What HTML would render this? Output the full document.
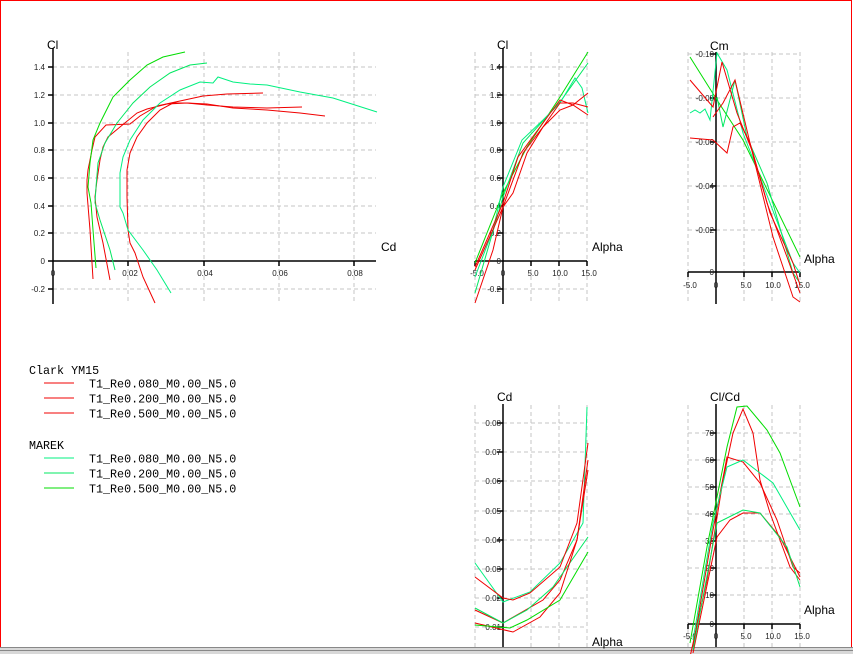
<!DOCTYPE html>
<html><head><style>
html,body{margin:0;padding:0;background:#fff}
svg{display:block}
text{font-family:"Liberation Sans",sans-serif}
.t{font-size:8px;fill:#222}
.T{font-size:12px;fill:#000}
.g{stroke:#c4c4c4;stroke-width:1;stroke-dasharray:4,3;fill:none}
.a{stroke:#000;stroke-width:1.5;fill:none}
.r{stroke:#f00000;stroke-width:1;fill:none}
.e{stroke:#00f080;stroke-width:1;fill:none}
.f{stroke:#00e860;stroke-width:1;fill:none}
.d{stroke:#00dd00;stroke-width:1;fill:none}
.m{font-family:"Liberation Mono",monospace;font-size:11.7px;fill:#000}
</style></head><body>
<svg width="853" height="654" viewBox="0 0 853 654" xmlns="http://www.w3.org/2000/svg">
<rect x="0.5" y="0.5" width="851" height="652" fill="#fff" stroke="#f00" stroke-width="1"/>
<rect x="0" y="647" width="853" height="7" fill="#d8d8d8"/>
<line x1="0" y1="647.5" x2="853" y2="647.5" stroke="#888"/>
<line x1="0" y1="650.5" x2="853" y2="650.5" stroke="#888"/>

<!-- Chart 1 Cl vs Cd -->
<g class="g">
<path d="M128 52V304M204 52V304M279 52V304M354 52V304"/>
<path d="M53 67H376M53 95H376M53 123H376M53 150H376M53 178H376M53 206H376M53 233H376M53 289H376"/>
</g>
<path class="a" d="M53 48V304M53 261H376"/>
<g class="a" stroke-width="1"><path d="M48 67H53M48 95H53M48 123H53M48 150H53M48 178H53M48 206H53M48 233H53M48 261H53M48 289H53M128 261V266M204 261V266M279 261V266M354 261V266"/></g>
<g class="t" text-anchor="end">
<text x="45" y="70">1.4</text><text x="45" y="98">1.2</text><text x="45" y="126">1.0</text><text x="45" y="153">0.8</text><text x="45" y="181">0.6</text><text x="45" y="209">0.4</text><text x="45" y="236">0.2</text><text x="45" y="264">0</text><text x="45" y="292">-0.2</text>
</g>
<g class="t" text-anchor="middle"><text x="53" y="276">0</text><text x="130" y="276">0.02</text><text x="205" y="276">0.04</text><text x="280" y="276">0.06</text><text x="355" y="276">0.08</text></g>
<text class="T" x="47" y="49">Cl</text><text class="T" x="381" y="251">Cd</text>

<polyline class="r" points="93,279 90,230 87,193 87,180 88,170 92,150 95,137 106,125 130,124 140,116 157,106 180,101 203,96 227,94 263,93"/>
<polyline class="r" points="110,280 103,243 97,217 95,197 97,180 100,160 103,147 108,137 120,127 137,113 147,109 167,104 187,103 207,105 233,107 267,108 302,107"/>
<polyline class="r" points="155,303 143,277 135,253 130,243 128,230 127,197 127,170 130,153 137,137 147,123 160,110 173,103 187,103 207,104 233,108 267,110 300,113 325,116"/>
<polyline class="d" points="96,268 93,230 91,203 88,187 90,163 93,140 100,123 113,97 130,80 147,65 163,57 185,52"/>
<polyline class="f" points="115,270 110,250 100,220 95,203 96,187 98,163 105,143 117,123 133,103 150,87 170,73 190,65 207,63"/>
<polyline class="e" points="171,293 157,270 143,250 128,230 123,213 120,207 120,173 123,157 130,140 143,120 160,103 180,90 200,82 213,83 218,77 233,82 250,84 267,85 300,92 333,98 377,112"/>

<!-- Chart 2 Cl vs Alpha -->
<g class="g">
<path d="M475 52V304M531 52V304M559 52V304M587 52V304"/>
<path d="M475 67H587M475 95H587M475 123H587M475 150H587M475 178H587M475 206H587M475 233H587M475 289H587"/>
</g>
<path class="a" d="M503 48V304M475 261H587"/>
<g class="a" stroke-width="1"><path d="M497 67H503M497 95H503M497 123H503M497 150H503M497 178H503M497 206H503M497 233H503M497 289H503M475 261V266M531 261V266M559 261V266M587 261V266"/></g>
<g class="t" text-anchor="end">
<text x="501" y="70">1.4</text><text x="501" y="98">1.2</text><text x="501" y="126">1.0</text><text x="501" y="153">0.8</text><text x="501" y="181">0.6</text><text x="501" y="209">0.4</text><text x="501" y="236">0.2</text><text x="501" y="264">0</text><text x="501" y="292">-0.2</text>
</g>
<g class="t" text-anchor="middle"><text x="477" y="276">-5.0</text><text x="503" y="276">0</text><text x="533" y="276">5.0</text><text x="560" y="276">10.0</text><text x="589" y="276">15.0</text></g>
<text class="T" x="497" y="49">Cl</text><text class="T" x="592" y="251">Alpha</text>
<polyline class="d" points="475,263 503,193 527,147 560,97 588,52"/>
<polyline class="f" points="475,293 503,197 523,143 560,102 588,63"/>
<polyline class="e" points="475,277 493,230 503,187 522,140 543,120 560,103 575,78 582,88 588,113"/>
<polyline class="r" points="475,303 493,250 503,207 513,193 527,153 543,127 560,103 573,103 588,107"/>
<polyline class="r" points="475,270 503,207 523,153 543,127 560,110 573,105 588,93"/>
<polyline class="r" points="475,267 503,203 518,157 540,127 560,100 573,105 588,115"/>

<!-- Chart 3 Cm -->
<g class="g">
<path d="M688 52V304M744 52V304M772 52V304M800 52V304"/>
<path d="M688 54H800M688 98H800M688 142H800M688 186H800M688 230H800"/>
</g>
<path class="a" d="M716 52V304M688 272H800"/>
<g class="a" stroke-width="1"><path d="M710 54H716M710 98H716M710 142H716M710 186H716M710 230H716M688 272V277M744 272V277M772 272V277M800 272V277"/></g>
<g class="t" text-anchor="end">
<text x="714" y="57">-0.10</text><text x="714" y="101">-0.08</text><text x="714" y="145">-0.06</text><text x="714" y="189">-0.04</text><text x="714" y="233">-0.02</text><text x="714" y="275">0</text>
</g>
<g class="t" text-anchor="middle"><text x="690" y="288">-5.0</text><text x="716" y="288">0</text><text x="746" y="288">5.0</text><text x="773" y="288">10.0</text><text x="802" y="288">15.0</text></g>
<text class="T" x="710" y="50">Cm</text><text class="T" x="804" y="263">Alpha</text>
<polyline class="d" points="690,57 717,100 743,140 800,257"/>
<polyline class="e" points="690,113 695,110 700,113 705,109 710,120 717,53 727,70 743,133 760,177 793,263 800,273"/>
<polyline class="f" points="717,97 723,127 735,80 747,137 767,183 793,273 800,283"/>
<polyline class="r" points="690,80 713,107 722,62 737,113 753,153 770,213 793,263 800,285"/>
<polyline class="r" points="690,138 713,140 727,153 733,127 740,123 750,143 767,203 787,257 800,293"/>
<polyline class="r" points="713,117 723,103 735,80 750,143 773,237 793,297 800,302"/>

<!-- Chart 4 Cd -->
<g class="g">
<path d="M475 405V647M531 405V647M559 405V647M587 405V647"/>
<path d="M475 423H587M475 452H587M475 481H587M475 511H587M475 540H587M475 569H587M475 598H587M475 627H587"/>
</g>
<path class="a" d="M503 404V647"/>
<g class="a" stroke-width="1"><path d="M497 423H503M497 452H503M497 481H503M497 511H503M497 540H503M497 569H503M497 598H503M497 627H503"/></g>
<g class="t" text-anchor="end">
<text x="501" y="426">0.08</text><text x="501" y="455">0.07</text><text x="501" y="484">0.06</text><text x="501" y="514">0.05</text><text x="501" y="543">0.04</text><text x="501" y="572">0.03</text><text x="501" y="601">0.02</text><text x="501" y="630">0.01</text>
</g>
<text class="T" x="497" y="401">Cd</text><text class="T" x="592" y="646">Alpha</text>
<polyline class="e" points="475,563 503,602 530,592 560,563 583,523 587,407"/>
<polyline class="r" points="475,577 503,598 513,600 530,593 560,567 577,523 588,443"/>
<polyline class="r" points="475,610 503,623 543,600 560,580 577,540 588,460"/>
<polyline class="f" points="475,608 503,623 527,610 553,587 588,537"/>
<polyline class="r" points="475,623 513,632 540,617 560,593 577,540 588,470"/>
<polyline class="d" points="475,625 510,628 527,620 560,600 588,552"/>

<!-- Chart 5 Cl/Cd -->
<g class="g">
<path d="M688 405V647M744 405V647M772 405V647M800 405V647"/>
<path d="M688 433H800M688 460H800M688 487H800M688 514H800M688 541H800M688 568H800M688 595H800"/>
</g>
<path class="a" d="M716 404V647M688 624H800"/>
<g class="a" stroke-width="1"><path d="M710 433H716M710 460H716M710 487H716M710 514H716M710 541H716M710 568H716M710 595H716M710 624H716M688 624V629M744 624V629M772 624V629M800 624V629"/></g>
<g class="t" text-anchor="end">
<text x="714" y="436">70</text><text x="714" y="463">60</text><text x="714" y="490">50</text><text x="714" y="517">40</text><text x="714" y="544">30</text><text x="714" y="571">20</text><text x="714" y="598">10</text><text x="714" y="627">0</text>
</g>
<g class="t" text-anchor="middle"><text x="690" y="639">-5.0</text><text x="716" y="639">0</text><text x="746" y="639">5.0</text><text x="773" y="639">10.0</text><text x="802" y="639">15.0</text></g>
<text class="T" x="710" y="401">Cl/Cd</text><text class="T" x="804" y="614">Alpha</text>
<polyline class="d" points="690,643 707,547 727,447 737,407 747,406 767,430 780,453 800,507"/>
<polyline class="r" points="690,657 707,580 723,480 733,433 743,409 753,433 760,480 770,513 790,567 800,580"/>
<polyline class="r" points="693,647 713,530 727,457 743,462 760,483 777,520 793,567 800,573"/>
<polyline class="e" points="693,640 713,523 727,467 743,460 773,483 800,530"/>
<polyline class="r" points="693,653 717,537 730,520 743,513 760,513 780,537 800,577"/>
<polyline class="f" points="693,650 717,523 743,510 760,513 787,547 800,587"/>

<!-- Legend -->
<text class="m" x="29" y="374">Clark YM15</text>
<line x1="44" y1="383" x2="74" y2="383" stroke="#f00000"/><text class="m" x="89" y="387.5">T1_Re0.080_M0.00_N5.0</text>
<line x1="44" y1="398" x2="74" y2="398" stroke="#f00000"/><text class="m" x="89" y="402.5">T1_Re0.200_M0.00_N5.0</text>
<line x1="44" y1="413" x2="74" y2="413" stroke="#f00000"/><text class="m" x="89" y="417.5">T1_Re0.500_M0.00_N5.0</text>
<text class="m" x="29" y="449">MAREK</text>
<line x1="44" y1="458" x2="74" y2="458" stroke="#00f080"/><text class="m" x="89" y="462.5">T1_Re0.080_M0.00_N5.0</text>
<line x1="44" y1="473" x2="74" y2="473" stroke="#00e860"/><text class="m" x="89" y="477.5">T1_Re0.200_M0.00_N5.0</text>
<line x1="44" y1="488" x2="74" y2="488" stroke="#00dd00"/><text class="m" x="89" y="492.5">T1_Re0.500_M0.00_N5.0</text>
</svg>
</body></html>
